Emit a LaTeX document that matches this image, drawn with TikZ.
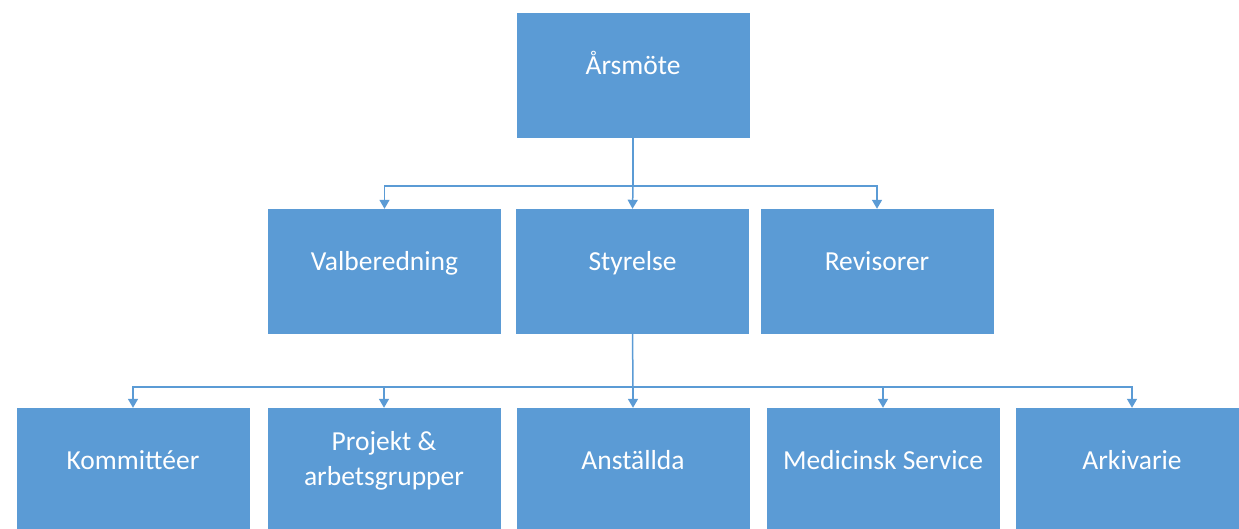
\documentclass[tikz,border=0pt]{standalone}
\usepackage{fontspec}
\setmainfont{Carlito}
\usetikzlibrary{arrows.meta}
\definecolor{orgblue}{RGB}{91,155,213}
\tikzset{
  orgbox/.style={draw=none, fill=orgblue, minimum width=233pt, minimum height=125pt, inner sep=0pt},
  txtfont/.style={text=white, align=center, font=\fontsize{27.5}{35}\selectfont},
  boxtext/.style={txtfont, text height=18pt, text depth=6pt, inner sep=0pt, yshift=7pt},
  boxtwo/.style={txtfont, yshift=10pt},
  conn/.style={draw=orgblue, line width=1.5pt, -{Triangle[width=10pt,length=9pt]}},
  plain/.style={draw=orgblue, line width=1.5pt}
}
\begin{document}
\begin{tikzpicture}[x=1pt,y=-1pt]
\useasboundingbox (0,0) rectangle (1239,528);
\node[orgbox, label={[boxtext]center:Årsmöte}] (top) at (633,75.5) {};
\node[orgbox, label={[boxtext]center:Valberedning}] (val) at (384.5,271.5) {};
\node[orgbox, label={[boxtext]center:Styrelse}] (sty) at (632.5,271.5) {};
\node[orgbox, label={[boxtext]center:Revisorer}] (rev) at (877,271.5) {};
\node[orgbox, label={[boxtext]center:Kommittéer}] (kom) at (133,470.5) {};
\node[orgbox, label={[boxtwo]center:Projekt \&\\arbetsgrupper}] (pro) at (384,470.5) {};
\node[orgbox, label={[boxtext]center:Anställda}] (ans) at (633,470.5) {};
\node[orgbox, label={[boxtext]center:Medicinsk Service}] (med) at (883,470.5) {};
\node[orgbox, label={[boxtext]center:Arkivarie}] (ark) at (1132,470.5) {};
\coordinate (bus1) at (633,186);
\coordinate (bus2) at (633,387);
\draw[plain] (top.south) -- (bus1);
\draw[conn] (bus1) -| (val.north);
\draw[conn] (bus1) -- (sty.north);
\draw[conn] (bus1) -| (rev.north);
\draw[plain] (sty.south) -- (bus2);
\draw[conn] (bus2) -| (kom.north);
\draw[conn] (bus2) -| (pro.north);
\draw[conn] (bus2) -- (ans.north);
\draw[conn] (bus2) -| (med.north);
\draw[conn] (bus2) -| (ark.north);
\end{tikzpicture}
\end{document}
